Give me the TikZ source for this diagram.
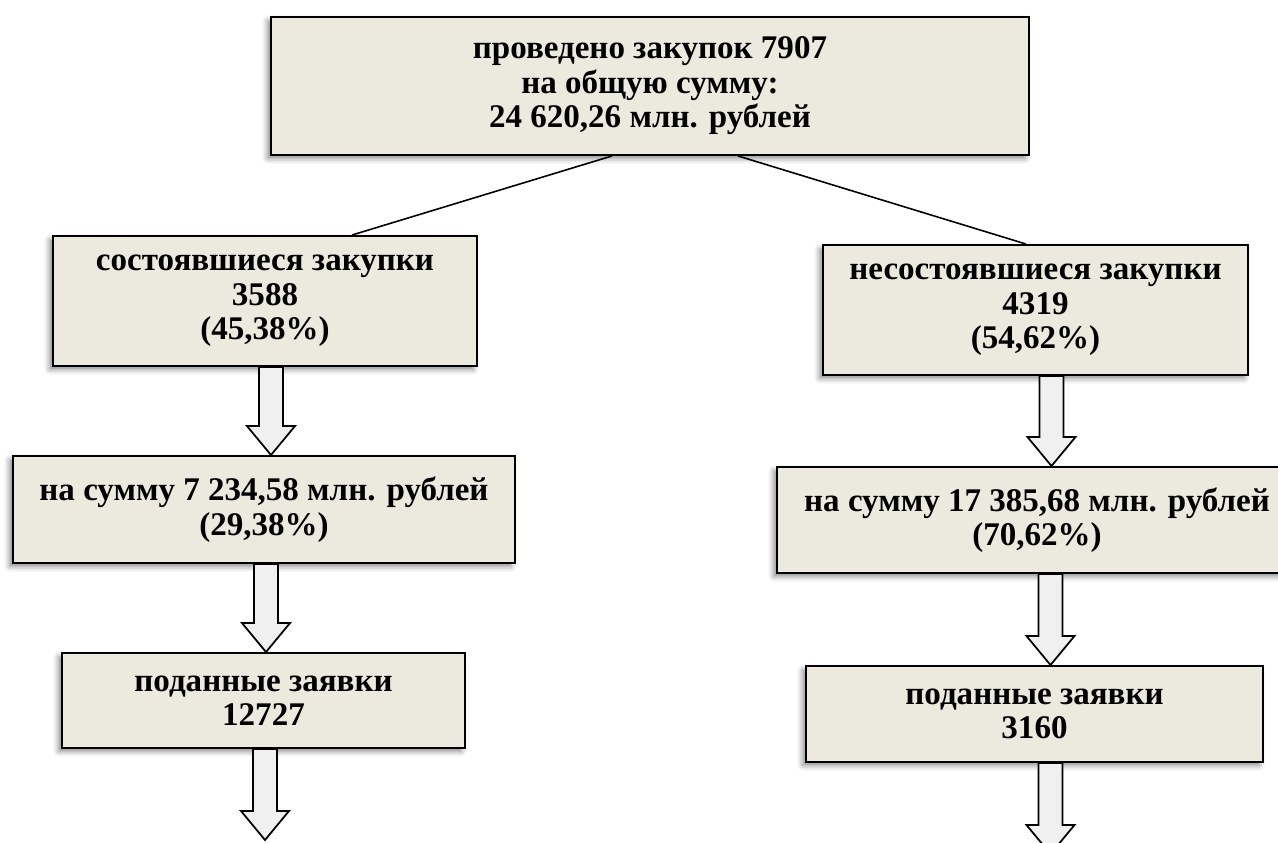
\documentclass[tikz,border=0pt]{standalone}
\usepackage{fontspec}
\setmainfont{Liberation Serif}
\usetikzlibrary{positioning,calc,shadows.blur}
\definecolor{boxfill}{RGB}{236,233,223}
\definecolor{arrfill}{RGB}{240,240,240}
\tikzset{
  infobox/.style={draw=black, line width=1.1pt, fill=boxfill, align=center,
    inner sep=0pt, font=\fontsize{18.8}{19.6}\selectfont\bfseries,
    blur shadow={shadow xshift=-2pt, shadow yshift=-2pt,
      shadow blur radius=3pt, shadow opacity=45}},
  flowarr/.style={draw=black, line width=1pt, fill=arrfill},
  link/.style={draw=black, line width=0.9pt}
}
% block arrow from a box down to the next one
\newcommand{\flowarrow}[3][0cm]{%
  \path[flowarr] let \p1=([xshift=#1]#2.south), \p2=(#3) in
    (\x1-0.24cm,\y1) -- (\x1-0.24cm,\y2+0.58cm) -- (\x1-0.48cm,\y2+0.58cm)
    -- (\x1,\y2) -- (\x1+0.48cm,\y2+0.58cm) -- (\x1+0.24cm,\y2+0.58cm)
    -- (\x1+0.24cm,\y1) -- cycle;}

\begin{document}
\begin{tikzpicture}
  \useasboundingbox (0,0) rectangle (25.56,-16.86);
  %% top
  \node[infobox, minimum width=15.16cm, minimum height=2.76cm] (total) at (13.0,-1.72)
    {проведено закупок 7907\\на общую сумму:\\24 620,26 млн. рублей};
  %% left branch
  \node[infobox, minimum width=8.48cm, minimum height=2.6cm] (done) at (5.30,-6.02)
    {состоявшиеся закупки\\3588\\(45,38\%)};
  \node[infobox, minimum width=10.04cm, minimum height=2.14cm] (donesum) at (5.28,-10.19)
    {на сумму 7 234,58 млн. рублей\\(29,38\%)};
  \node[infobox, minimum width=8.06cm, minimum height=1.9cm] (donebids) at (5.27,-14.01)
    {поданные заявки\\12727};
  \coordinate (doneend) at (5.3,-16.80);
  %% right branch
  \node[infobox, minimum width=8.5cm, minimum height=2.6cm] (failed) at (20.71,-6.20)
    {несостоявшиеся закупки\\4319\\(54,62\%)};
  \node[infobox, minimum width=10.4cm, minimum height=2.12cm] (failedsum) at (20.74,-10.40)
    {на сумму 17 385,68 млн. рублей\\(70,62\%)};
  \node[infobox, minimum width=9.14cm, minimum height=1.92cm] (failedbids) at (20.69,-14.28)
    {поданные заявки\\3160};
  \coordinate (failedend) at (21.0,-17.08);
  % links from the top box
  \draw[link] ([xshift=-0.76cm]total.south) -- ([xshift=1.74cm]done.north);
  \draw[link] ([xshift=1.76cm]total.south) -- ([xshift=-0.19cm]failed.north);
  % arrows
  \flowarrow[0.12cm]{done}{donesum.north}
  \flowarrow[0.04cm]{donesum}{donebids.north}
  \flowarrow[0.03cm]{donebids}{doneend}
  \flowarrow[0.32cm]{failed}{failedsum.north}
  \flowarrow[0.27cm]{failedsum}{failedbids.north}
  \flowarrow[0.32cm]{failedbids}{failedend}
\end{tikzpicture}
\end{document}
